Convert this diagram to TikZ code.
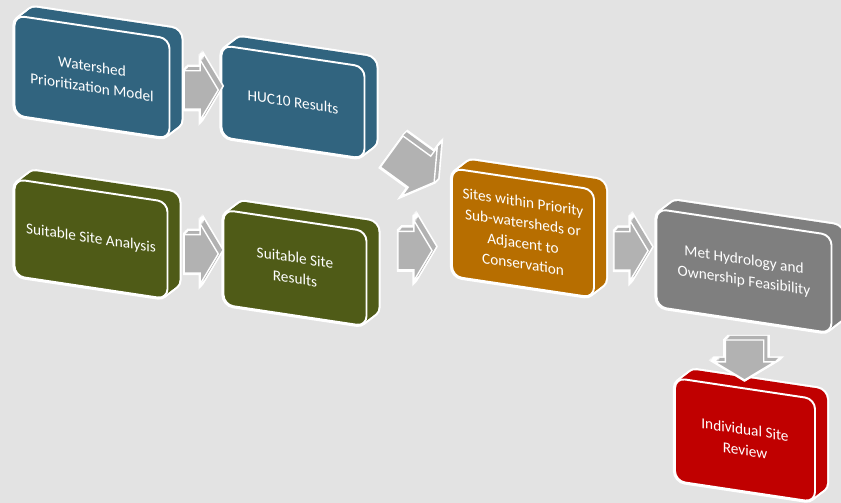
\documentclass[tikz,border=0pt]{standalone}
\usepackage{fontspec}
\setmainfont{Carlito}
\usetikzlibrary{shapes.arrows, calc, positioning}
\definecolor{wsblue}{HTML}{31647F}
\definecolor{siteolive}{HTML}{4F5B17}
\definecolor{sitesorange}{HTML}{B76E00}
\definecolor{metgray}{HTML}{7F7F7F}
\definecolor{reviewred}{HTML}{C00000}
\definecolor{flowgray}{HTML}{B2B2B2}
\definecolor{paper}{HTML}{E3E3E3}

\begin{document}
\begin{tikzpicture}[
    x=0.02cm, y=-0.02cm,
    slab/.style={rectangle, rounded corners=0.2cm, align=center, text=white,
                 font=\fontsize{8.7}{11.8}\selectfont, inner sep=1pt},
    rim/.style={slab, draw=white, line width=2.4pt},
    body/.style={slab, draw=none},
    face/.style={slab, draw=white, line width=1.1pt},
    flow/.style={single arrow, single arrow head extend=0.22cm, single arrow tip angle=118,
                 minimum height=0.68cm, inner xsep=0pt, inner ysep=0.37cm},
]
\useasboundingbox (0,0) rectangle (841,503);
\fill[paper] (0,0) rectangle (841,503);

% boxes: back copies for the depth, then the front face
\foreach \nm/\x/\y/\w/\h/\col/\txt in {
    ws/92/77/155/100/wsblue/{Watershed\\Prioritization Model},
    huc/293/102/143/92/wsblue/{HUC10 Results},
    sa/91/239/153/97/siteolive/{Suitable Site Analysis},
    sr/295/268/143/95/siteolive/{Suitable Site\\Results},
    sites/523/233/142/108/sitesorange/{Sites within Priority\\Sub-watersheds or\\Adjacent to\\Conservation},
    met/744/271/175/98/metgray/{Met Hydrology and\\Ownership Feasibility},
    rev/745/440/140/103/reviewred/{Individual Site\\Review}%
}{
    \foreach \k in {0,...,8}
        \node[rim, minimum width=\w*0.02cm, minimum height=\h*0.02cm,
              xshift=\k*0.03cm, yshift=\k*0.023cm, yslant=-0.15] at (\x,\y) {};
    \foreach \k in {0,...,8}
        \node[body, fill=\col, minimum width=\w*0.02cm, minimum height=\h*0.02cm,
              xshift=\k*0.03cm, yshift=\k*0.023cm, yslant=-0.15] at (\x,\y) {};
    \node[face, fill=\col, minimum width=\w*0.02cm, minimum height=\h*0.02cm,
          yslant=-0.15] (\nm) at (\x,\y) {\txt};
}

% block arrows between the boxes
\foreach \a/\b/\ang/\len [count=\i] in {ws.east/huc.west/0/0.68, sa.east/sr.west/0/0.68,
    huc.south east/sites.north west/-36/1.05, sr.east/sites.west/0/0.68,
    sites.east/met.west/0/0.68, met.south/rev.north/-90/0.8}{
    \coordinate (mid\i) at ($(\a)!0.5!(\b)$);
    \foreach \k in {0,...,5}
        \node[flow, minimum height=\len cm, draw=white, line width=1.6pt,
              xshift=\k*0.016cm, yshift=\k*0.016cm, rotate=\ang] at (mid\i) {};
    \foreach \k in {0,...,5}
        \node[flow, minimum height=\len cm, fill=flowgray,
              xshift=\k*0.016cm, yshift=\k*0.016cm, rotate=\ang] at (mid\i) {};
    \node[flow, minimum height=\len cm, fill=flowgray, draw=white, line width=0.8pt,
          rotate=\ang] (arrow\i) at (mid\i) {};
}
\end{tikzpicture}
\end{document}
